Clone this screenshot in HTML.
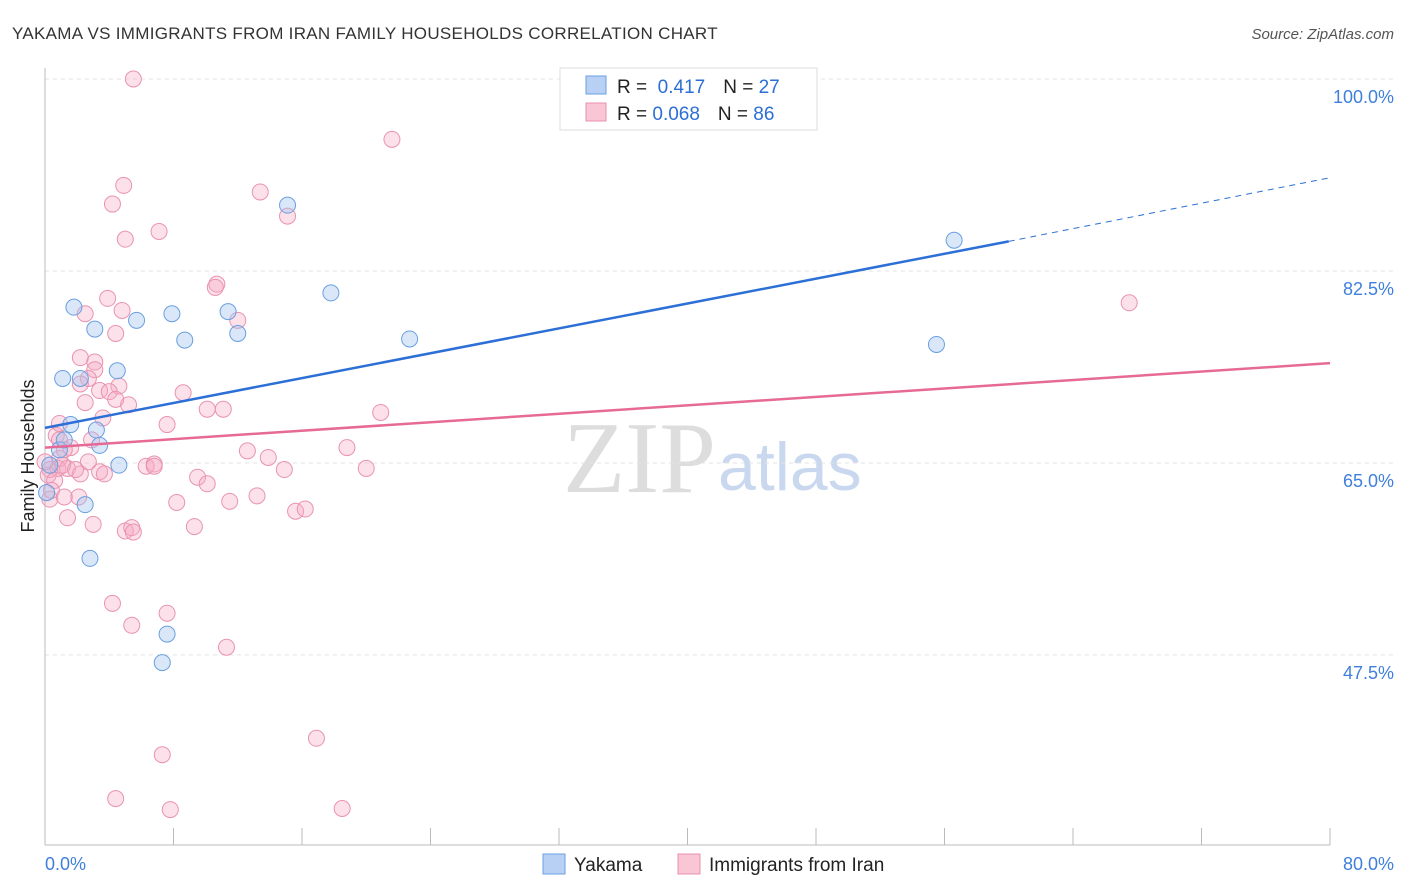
<!DOCTYPE html>
<html><head><meta charset="utf-8"><style>
body{margin:0;background:#fff;font-family:"Liberation Sans",sans-serif;}
svg{display:block}
</style></head><body>
<svg id="chart" width="1406" height="892">
<text x="12" y="39" font-size="17" fill="#333" letter-spacing="0.3">YAKAMA VS IMMIGRANTS FROM IRAN FAMILY HOUSEHOLDS CORRELATION CHART</text>
<text x="1394" y="39" font-size="15" fill="#555" font-style="italic" text-anchor="end">Source: ZipAtlas.com</text>
<text x="716" y="492" font-size="102" fill="#ddd" text-anchor="end" font-family="Liberation Serif,serif">ZIP</text>
<text x="718" y="490" font-size="68" fill="#c9d8ef">atlas</text>
<g id="grid"></g><g id="axes"></g><g id="marks"></g>
<text transform="translate(34,456) rotate(-90)" font-size="18" fill="#222" text-anchor="middle">Family Households</text>
<g>
<rect x="560" y="68" width="257" height="62" fill="#fff" stroke="#ddd"/>
<rect x="586" y="76" width="20" height="18" fill="#b7d0f3" stroke="#6a9fe0"/>
<rect x="586" y="103" width="20" height="18" fill="#f9c6d5" stroke="#e890ae"/>
<text x="617" y="93" font-size="19" fill="#222">R = <tspan fill="#2b6fd6">&#160;0.417</tspan><tspan dx="18">N = </tspan><tspan fill="#2b6fd6">27</tspan></text>
<text x="617" y="120" font-size="19" fill="#222">R = <tspan fill="#2b6fd6">0.068</tspan><tspan dx="18">N = </tspan><tspan fill="#2b6fd6">86</tspan></text>
</g>
<g>
<rect x="543" y="854" width="22" height="20" fill="#b7d0f3" stroke="#6a9fe0"/>
<text x="574" y="871" font-size="19" fill="#222">Yakama</text>
<rect x="678" y="854" width="22" height="20" fill="#f9c6d5" stroke="#e890ae"/>
<text x="709" y="871" font-size="19" fill="#222">Immigrants from Iran</text>
</g>
</svg>
<script>
const yTicks=[100,82.5,65,47.5];
const yTickLabels=["100.0%","82.5%","65.0%","47.5%"];
const xTickLabels=["0.0%","80.0%"];
const blueX=[0.1,1.1,1.8,3.1,2.2,1.6,3.2,3.4,0.9,4.5,4.6,2.5,2.8,5.7,7.9,8.7,11.4,12.0,15.1,17.8,22.7,7.6,7.3,56.6,55.5,1.2,0.3];
const blueY=[62.3,72.7,79.2,77.2,72.7,68.5,68.0,66.6,66.2,73.4,64.8,61.2,56.3,78.0,78.6,76.2,78.8,76.8,88.5,80.5,76.3,49.4,46.8,85.3,75.8,67.1,64.8];
const pinkX=[5.5,21.6,4.9,4.2,13.4,15.1,5.0,7.1,10.7,10.6,3.9,4.8,2.5,12.0,4.4,2.2,3.1,3.1,2.7,4.6,2.2,3.4,4.0,5.2,4.4,8.6,10.1,11.1,20.9,2.5,3.6,7.6,0.7,0.9,1.6,2.9,0.9,0.3,0.8,1.4,2.2,3.4,3.7,6.3,6.8,12.6,13.9,14.9,18.8,20.0,9.5,10.1,8.2,11.5,13.2,15.6,16.2,2.1,0.3,1.4,3.0,5.0,5.4,5.5,9.3,4.2,5.4,7.6,11.3,16.9,7.3,4.4,7.8,18.5,67.5,0.2,0.6,1.1,1.9,2.7,1.2,0,0.9,1.2,0.4,6.8];
const pinkY=[100,94.5,90.3,88.6,89.7,87.5,85.4,86.1,81.3,81.0,80.0,78.9,78.6,78.0,76.8,74.6,74.2,73.5,72.7,72.0,72.2,71.6,71.5,70.3,70.8,71.4,69.9,69.9,69.6,70.5,69.1,68.5,67.5,67.1,66.4,67.1,65.4,64.4,64.5,64.5,64.0,64.2,64.0,64.7,64.9,66.1,65.5,64.4,66.4,64.5,63.7,63.1,61.4,61.5,62.0,60.6,60.8,61.9,61.7,60.0,59.4,58.8,59.1,58.7,59.2,52.2,50.2,51.3,48.2,39.9,38.4,34.4,33.4,33.5,79.6,63.9,63.4,64.8,64.4,65.1,66.2,65.1,68.6,61.9,62.5,64.7];
const blueTrendX=[0,60,80];
const blueTrendY=[68.2,85.2,91.0];
const pinkTrendX=[0,80];
const pinkTrendY=[66.4,74.1];
const NS="http://www.w3.org/2000/svg";
const sx=v=>45+v*1285/80;
const sy=v=>79+(100-v)*10.97;
function mk(tag,attrs,parent){const e=document.createElementNS(NS,tag);for(const k in attrs)e.setAttribute(k,attrs[k]);document.getElementById(parent).appendChild(e);return e;}
yTicks.forEach((t,i)=>{
 const g=mk('line',{x1:45,x2:1395,y1:sy(t),y2:sy(t),stroke:'#e3e3e3','stroke-dasharray':'4,4'},'grid');
 
 
 const l=mk('text',{x:1394,y:sy(t)+24,'font-size':18,fill:'#3f7fdc','text-anchor':'end'},'grid');
 l.textContent=yTickLabels[i];
 
 
});
let a=mk('line',{x1:45,x2:45,y1:68,y2:845,stroke:'#bbb'},'axes');


a=mk('line',{x1:45,x2:1330,y1:845,y2:845,stroke:'#bbb'},'axes');


for(let i=0;i<=10;i++){
 const t=mk('line',{x1:sx(i*8),x2:sx(i*8),y1:828,y2:845,stroke:'#bbb'},'axes');
 
 
}
[[0,'start',45],[80,'end',1394]].forEach((d,i)=>{
 const t=mk('text',{x:d[2],y:870,'font-size':18,fill:'#3f7fdc','text-anchor':d[1]},'axes');
 t.textContent=xTickLabels[i];
 
 
});
pinkX.forEach((x,i)=>{
 const c=mk('circle',{cx:sx(x),cy:sy(pinkY[i]),r:8,fill:'rgba(245,170,195,0.35)',stroke:'#e993b1','stroke-width':1},'marks');
 
 
});
blueX.forEach((x,i)=>{
 const c=mk('circle',{cx:sx(x),cy:sy(blueY[i]),r:8,fill:'rgba(160,195,240,0.4)',stroke:'#6a9fe0','stroke-width':1},'marks');
 
 
});
let l=mk('line',{x1:sx(blueTrendX[0]),y1:sy(blueTrendY[0]),x2:sx(blueTrendX[1]),y2:sy(blueTrendY[1]),stroke:'#2c6fd6','stroke-width':2.5},'marks');


l=mk('line',{x1:sx(blueTrendX[1]),y1:sy(blueTrendY[1]),x2:sx(blueTrendX[2]),y2:sy(blueTrendY[2]),stroke:'#2c6fd6','stroke-width':1,'stroke-dasharray':'6,5'},'marks');


l=mk('line',{x1:sx(pinkTrendX[0]),y1:sy(pinkTrendY[0]),x2:sx(pinkTrendX[1]),y2:sy(pinkTrendY[1]),stroke:'#e66a95','stroke-width':2.5},'marks');


</script>
</body></html>
